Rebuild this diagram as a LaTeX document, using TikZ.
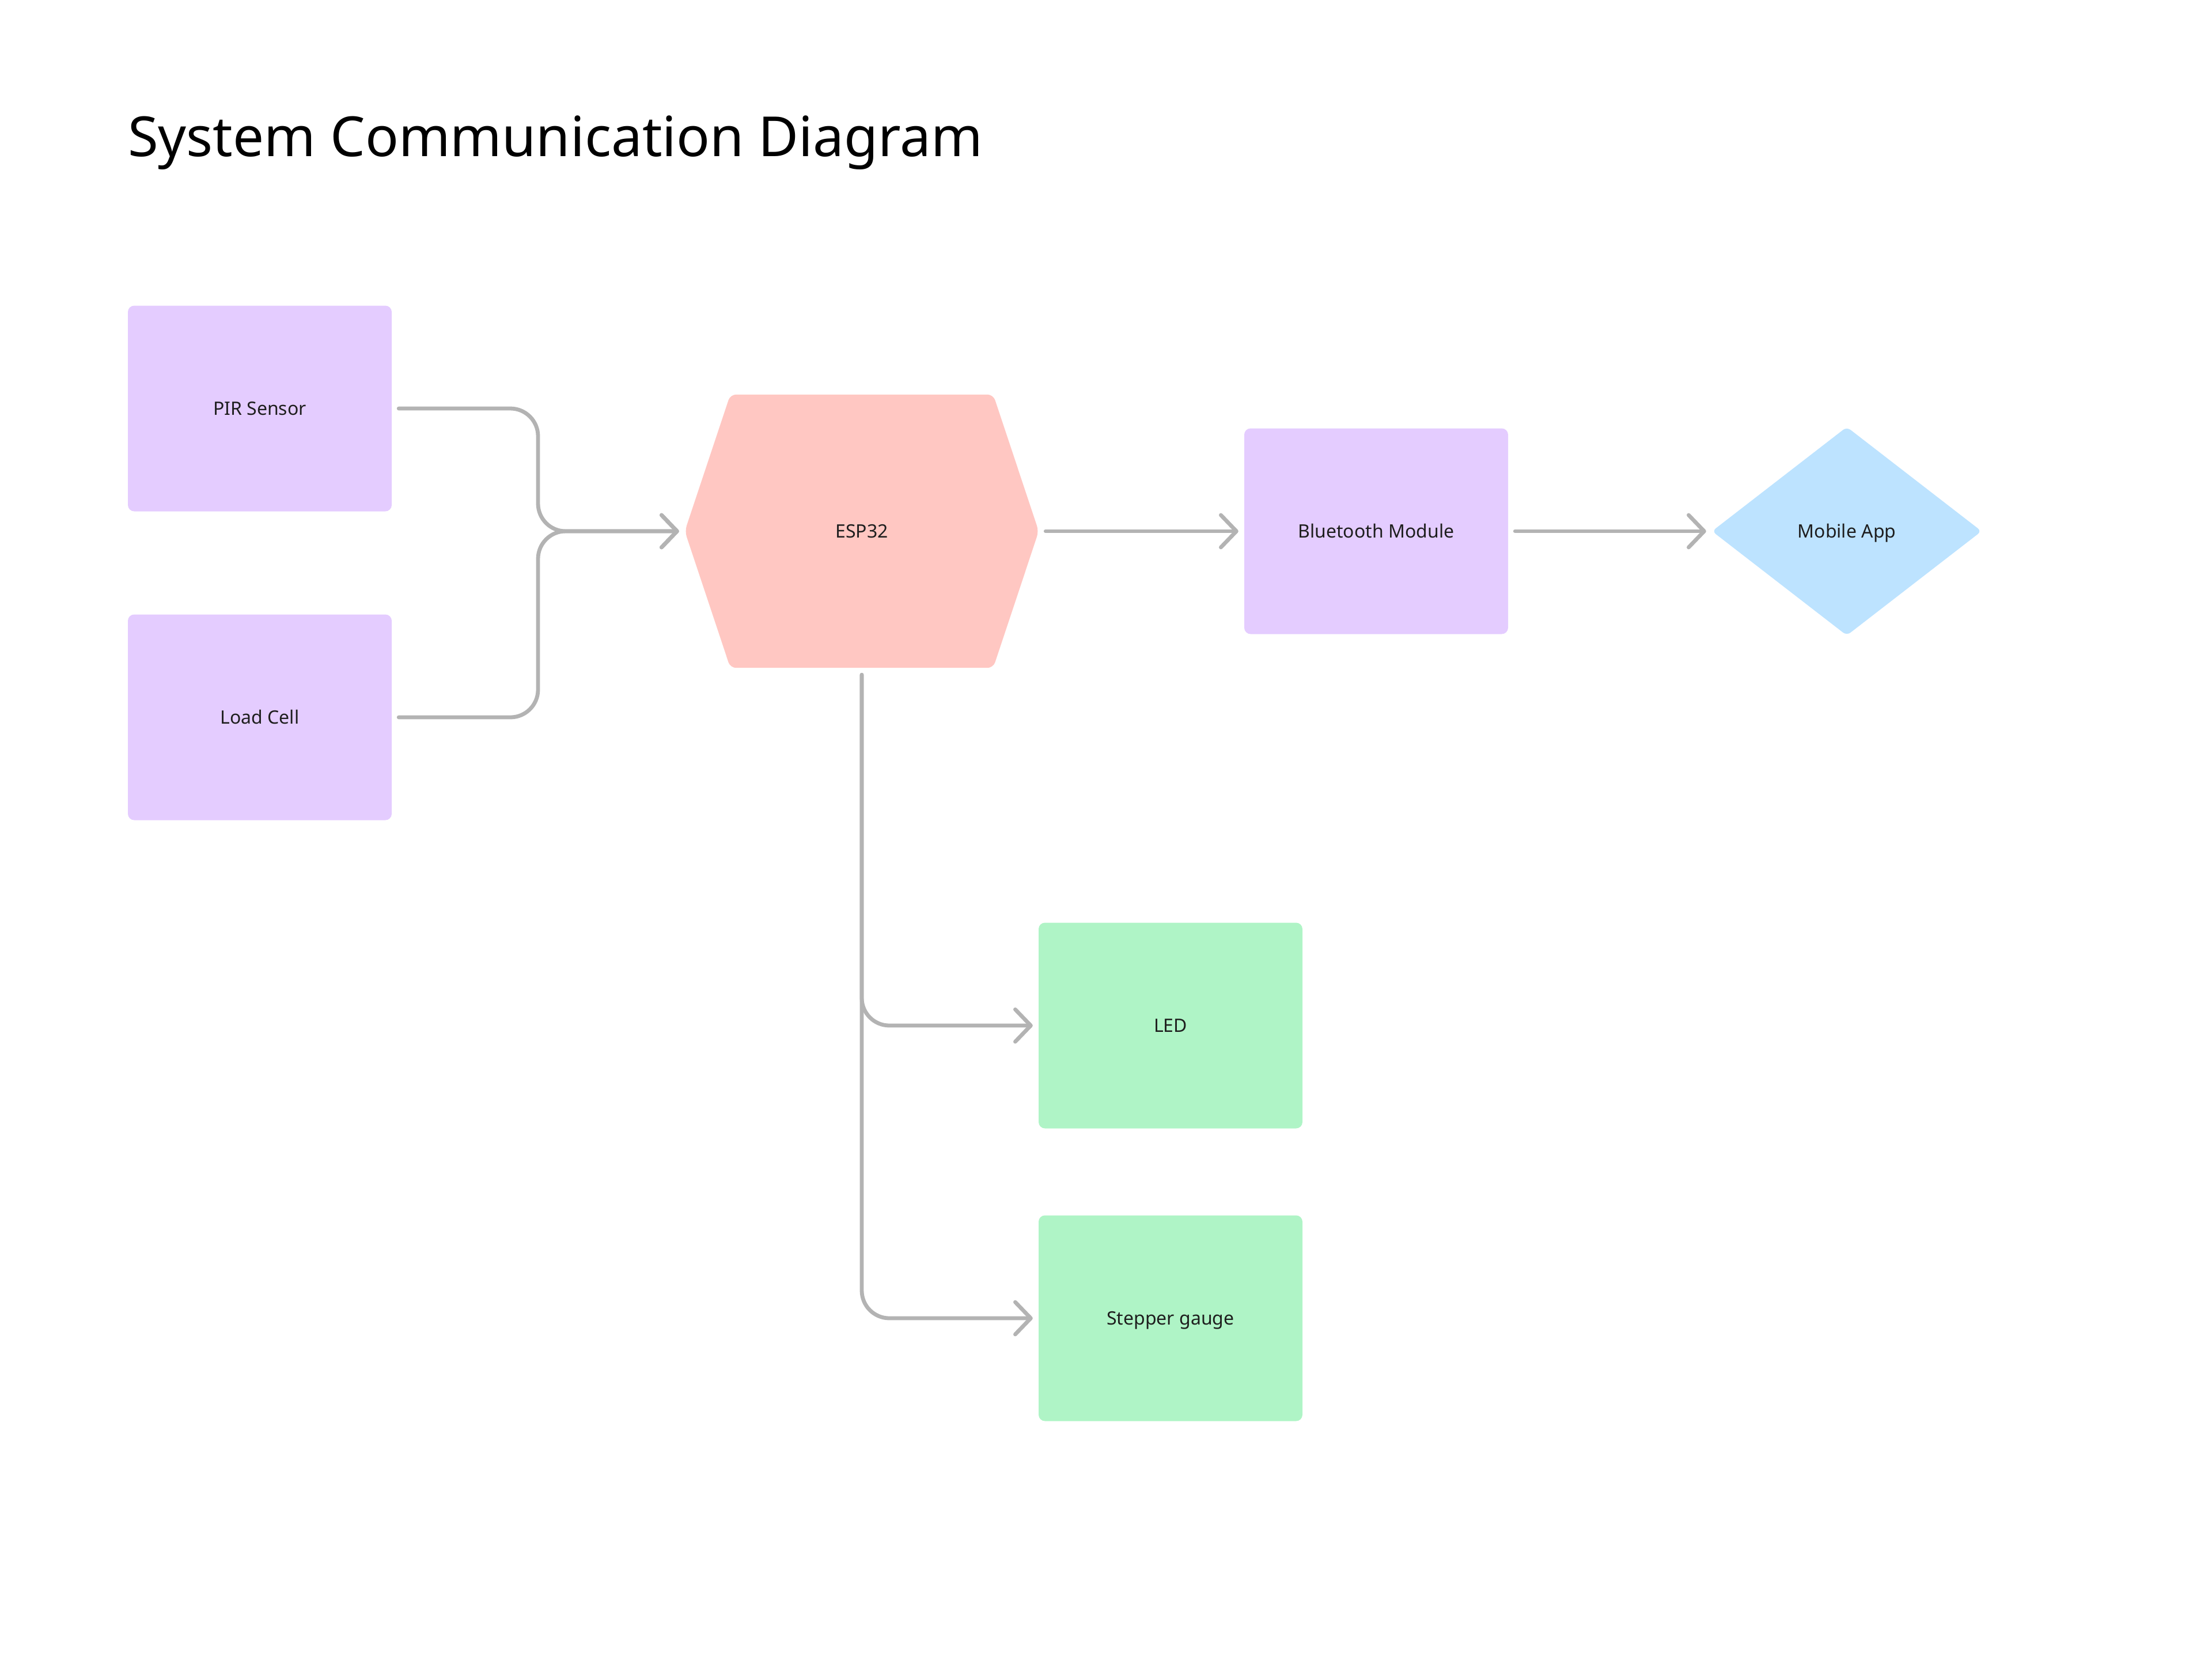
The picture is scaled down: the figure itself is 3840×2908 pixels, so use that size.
\documentclass[tikz,border=0pt]{standalone}
\usepackage{fontspec}
\setmainfont{Noto Sans}
\usetikzlibrary{shapes.geometric,arrows.meta,backgrounds,calc}
\definecolor{boxpurple}{HTML}{E4CCFF}
\definecolor{boxpink}{HTML}{FFC7C2}
\definecolor{boxgreen}{HTML}{AFF4C6}
\definecolor{boxblue}{HTML}{BDE3FF}
\definecolor{linegray}{HTML}{B3B3B3}
\definecolor{labeltext}{HTML}{1E1E1E}
\begin{document}
\begin{tikzpicture}[x=1pt,y=-1pt,
  lbl/.style={font=\fontsize{32}{38}\selectfont, text=labeltext, text height=23pt, text depth=0pt, inner sep=0pt},
  card/.style={lbl, rectangle, rounded corners=11pt, minimum width=458pt, minimum height=357pt},
  sensor/.style={card, fill=boxpurple},
  outbox/.style={card, fill=boxgreen},
  conn/.style={draw=linegray, line width=6.8pt, line cap=round, line join=round,
    rounded corners=48pt, shorten <=12pt, shorten >=10pt,
    -{Straight Barb[length=27pt,width=56pt,round]}}
]
\useasboundingbox (0,0) rectangle (3840,2908);

\node[anchor=base west, inner sep=0pt, font=\fontsize{96}{116}\selectfont] (title) at (222,271) {System Communication Diagram};

\node[sensor] (pir) at (451,709) {PIR Sensor};
\node[sensor] (load) at (451,1245) {Load Cell};
\node[lbl, minimum width=614pt, minimum height=474pt] (esp) at (1496,922) {ESP32};
\node[sensor] (bt) at (2389,922) {Bluetooth Module};
\node[lbl, diamond, fill=boxblue, minimum width=468pt, minimum height=362pt, rounded corners=8pt] (app) at (3206,922) {Mobile App};
\node[outbox] (led) at (2032,1780) {LED};
\node[outbox] (stp) at (2032,2288) {Stepper gauge};

\begin{scope}[on background layer]
\fill[boxpink, rounded corners=10pt] (esp.west) -- ($(esp.north west)+(79,0)$) -- ($(esp.north east)+(-79,0)$) -- (esp.east) -- ($(esp.south east)+(-79,0)$) -- ($(esp.south west)+(79,0)$) -- cycle;
\end{scope}

\coordinate (merge) at (934,922);

\draw[conn] (pir.east) -| (merge) -- (esp.west);
\draw[conn] (load.east) -| (merge) -- (esp.west);
\draw[conn] (esp.east) -- (bt.west);
\draw[conn] (bt.east) -- (app.west);
\draw[conn] (esp.south) |- (led.west);
\draw[conn] (esp.south) |- (stp.west);
\end{tikzpicture}
\end{document}
